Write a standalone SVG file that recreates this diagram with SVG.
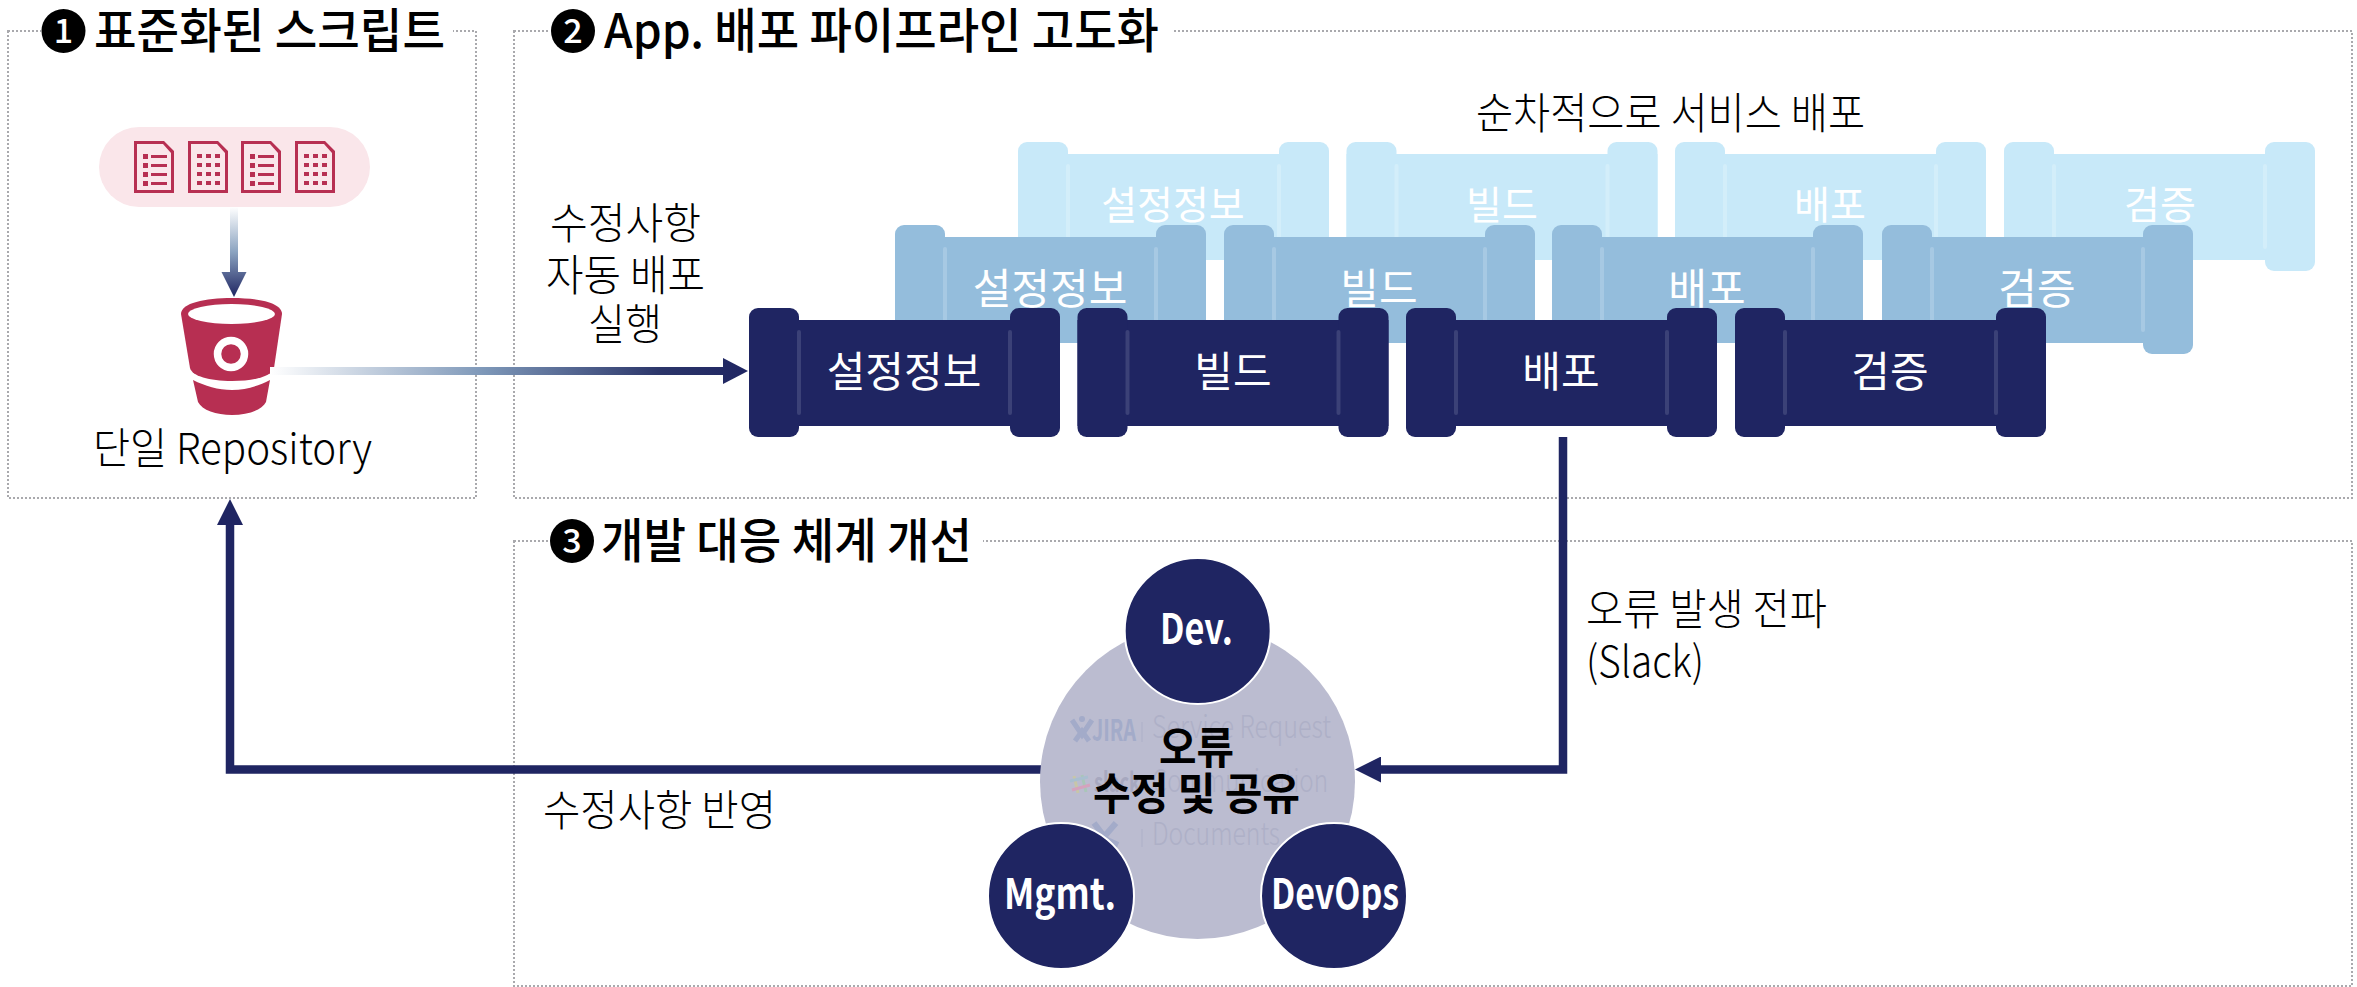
<svg xmlns="http://www.w3.org/2000/svg" width="2357" height="987" viewBox="0 0 2357 987">
<style>
text{font-family:"Noto Sans CJK KR","Noto Sans",sans-serif;}
.box{fill:none;stroke:#a9a9ad;stroke-width:2;stroke-dasharray:2 2;}
.mask{fill:#fff;}
.title{font-size:48px;font-weight:500;fill:#000;}
.num{font-size:34px;font-weight:500;fill:#fff;text-anchor:middle;}
.lab{font-size:43px;font-weight:300;fill:#000;}
.tl{font-size:42px;font-weight:400;fill:#fff;text-anchor:middle;}
.back .tl{font-size:39px;}
.front{--c:#1f2562;--s:#3b4177;}
.mid{--c:#94bddc;--s:#a7c9e3;}
.back{--c:#c8e9f9;--s:#d3eefa;}
.b,.c{fill:var(--c);}
.s{fill:var(--s);}
.line{fill:none;stroke:#1f2562;stroke-width:8.5;}
.circ{fill:#1f2562;stroke:#fff;stroke-width:2;}
.cl{font-size:42px;font-weight:700;fill:#fff;}
.ct{font-size:44px;font-weight:700;fill:#000;}
.faint{font-size:31px;font-weight:300;fill:#aeb0c7;}
.ic{fill:#b72f52;}
</style>
<defs>
<linearGradient id="gh" gradientUnits="userSpaceOnUse" x1="270" y1="0" x2="748" y2="0"><stop offset="0" stop-color="#fff"/><stop offset=".45" stop-color="#7d97b8"/><stop offset=".82" stop-color="#2b3569"/><stop offset="1" stop-color="#1f2562"/></linearGradient>
<linearGradient id="gv" gradientUnits="userSpaceOnUse" x1="0" y1="207" x2="0" y2="297"><stop offset="0" stop-color="#fff"/><stop offset=".5" stop-color="#8ba3c0"/><stop offset="1" stop-color="#1f2562"/></linearGradient>
<marker id="head" markerUnits="userSpaceOnUse" markerWidth="26" markerHeight="26" refX="0" refY="13" orient="auto"><path d="M0,0L26,13L0,26Z" fill="#1f2562"/></marker>
<g id="tube-shape">
<rect class="b" x="0" y="12" width="311" height="106"/>
<rect class="c" x="0" y="0" width="50" height="129" rx="9"/>
<rect class="c" x="261" y="0" width="50" height="129" rx="9"/>
<rect class="s" x="48" y="22" width="4" height="85" rx="2"/>
<rect class="s" x="259" y="22" width="4" height="85" rx="2"/>
</g>
<path id="doc-frame" class="ic" fill-rule="evenodd" d="M0,0H30L40,10V52H0ZM3,3V49H37V12L29,3Z"/>
<g id="doc-list"><use href="#doc-frame"/><path class="ic" d="M9,13h5v5h-5zM17,14h16v3h-16zM9,22h5v5h-5zM17,23h16v3h-16zM9,31h5v5h-5zM17,32h16v3h-16zM9,40h5v5h-5zM17,41h16v3h-16z"/></g>
<g id="doc-grid"><use href="#doc-frame"/><path class="ic" d="M9,13h5v4h-5zM18,13h5v4h-5zM27,13h5v4h-5zM9,22h5v4h-5zM18,22h5v4h-5zM27,22h5v4h-5zM9,31h5v4h-5zM18,31h5v4h-5zM27,31h5v4h-5zM9,40h5v4h-5zM18,40h5v4h-5zM27,40h5v4h-5z"/></g>
</defs>
<rect width="2357" height="987" fill="#fff"/>

<g id="frames">
<rect class="box" x="8" y="31" width="468" height="467"/>
<rect class="box" x="514" y="31" width="1838" height="467"/>
<rect class="box" x="514" y="541" width="1838" height="445"/>
<rect class="mask" x="41" y="8" width="412" height="46"/>
<rect class="mask" x="550" y="8" width="623" height="46"/>
<rect class="mask" x="550" y="518" width="433" height="46"/>
</g>

<g id="title-1"><circle cx="63.500" cy="31" r="22"/><text class="num" x="63.500" y="43">1</text><text class="title" x="94" y="48" textLength="351" lengthAdjust="spacingAndGlyphs">표준화된 스크립트</text></g>
<g id="title-2"><circle cx="573" cy="31" r="22"/><text class="num" x="573" y="43">2</text><text class="title" x="604" y="48" textLength="555" lengthAdjust="spacingAndGlyphs">App. 배포 파이프라인 고도화</text></g>
<g id="title-3"><circle cx="572" cy="541" r="22"/><text class="num" x="572" y="553">3</text><text class="title" x="601" y="558" textLength="371" lengthAdjust="spacingAndGlyphs">개발 대응 체계 개선</text></g>

<g id="script-pill">
<rect x="99" y="127" width="271" height="80" rx="40" fill="#fae6ea"/>
<use href="#doc-list" x="134" y="141"/><use href="#doc-grid" x="188" y="141"/><use href="#doc-list" x="241" y="141"/><use href="#doc-grid" x="295" y="141"/>
</g>
<g id="repository">
<path class="ic" d="M181,314C181,303 205,298 232,298C259,298 282,303 282,314L274,368C272,376 255,381 232,381C209,381 192,376 190,368Z"/>
<ellipse cx="231.500" cy="314" rx="43.500" ry="10" fill="#fff"/>
<circle cx="231" cy="354" r="13.500" fill="none" stroke="#fff" stroke-width="7.500"/>
<path class="ic" d="M193,380C205,386 218,390 232,390C246,390 258,386 270,380L266,402C262,410 248,415 232,415C216,415 202,410 198,402Z"/>
<text class="lab" x="93" y="464" textLength="279" lengthAdjust="spacingAndGlyphs">단일 Repository</text>
</g>

<g id="layer-back">
<g id="back-1" class="back"><use href="#tube-shape" x="1018" y="142"/><text class="tl" x="1173" y="219">설정정보</text></g>
<g id="back-2" class="back"><use href="#tube-shape" x="1346.500" y="142"/><text class="tl" x="1502" y="219">빌드</text></g>
<g id="back-3" class="back"><use href="#tube-shape" x="1675" y="142"/><text class="tl" x="1830" y="219">배포</text></g>
<g id="back-4" class="back"><use href="#tube-shape" x="2004" y="142"/><text class="tl" x="2160" y="219">검증</text></g>
</g>
<g id="layer-mid">
<g id="mid-1" class="mid"><use href="#tube-shape" x="895" y="225"/><text class="tl" x="1050" y="304">설정정보</text></g>
<g id="mid-2" class="mid"><use href="#tube-shape" x="1224" y="225"/><text class="tl" x="1379" y="304">빌드</text></g>
<g id="mid-3" class="mid"><use href="#tube-shape" x="1552" y="225"/><text class="tl" x="1707" y="304">배포</text></g>
<g id="mid-4" class="mid"><use href="#tube-shape" x="1882" y="225"/><text class="tl" x="2037" y="304">검증</text></g>
</g>

<g id="connectors">
<path d="M270,371H724" fill="none" stroke="url(#gh)" stroke-width="8"/>
<path d="M723,358L748,371L723,384Z" fill="url(#gh)"/>
<path d="M234,207V273" fill="none" stroke="url(#gv)" stroke-width="8"/>
<path d="M221.500,272H246.500L234,297Z" fill="url(#gv)"/>
<path class="line" d="M1563,437V769.500H1381" marker-end="url(#head)"/>
<path class="line" d="M1042,769.500H230V525" marker-end="url(#head)"/>
</g>

<g id="layer-front">
<g id="front-1" class="front"><use href="#tube-shape" x="749" y="308"/><text class="tl" x="904" y="387">설정정보</text></g>
<g id="front-2" class="front"><use href="#tube-shape" x="1077.500" y="308"/><text class="tl" x="1233" y="387">빌드</text></g>
<g id="front-3" class="front"><use href="#tube-shape" x="1406" y="308"/><text class="tl" x="1561" y="387">배포</text></g>
<g id="front-4" class="front"><use href="#tube-shape" x="1735" y="308"/><text class="tl" x="1890" y="387">검증</text></g>
</g>

<g id="label-sequential"><text class="lab" x="1476" y="129" textLength="389" lengthAdjust="spacingAndGlyphs">순차적으로 서비스 배포</text></g>
<g id="label-auto"><text class="lab" x="550" y="239" textLength="151" lengthAdjust="spacingAndGlyphs">수정사항</text><text class="lab" x="546" y="291" textLength="159" lengthAdjust="spacingAndGlyphs">자동 배포</text><text class="lab" x="588" y="340" textLength="74" lengthAdjust="spacingAndGlyphs">실행</text></g>
<g id="label-error"><text class="lab" x="1586" y="625" textLength="241" lengthAdjust="spacingAndGlyphs">오류 발생 전파</text><text class="lab" x="1586" y="677" textLength="118" lengthAdjust="spacingAndGlyphs">(Slack)</text></g>
<g id="label-fix"><text class="lab" x="543" y="826" textLength="233" lengthAdjust="spacingAndGlyphs">수정사항 반영</text></g>

<g id="hub">
<circle cx="1197.500" cy="781.500" r="157.500" fill="#bbbcd0"/>
<g id="hub-faint">
<path d="M1072,720L1082,735L1092,720M1075,741L1082,731L1089,741" fill="none" stroke="#a3abc9" stroke-width="5"/>
<circle cx="1082" cy="719" r="3" fill="#a3abc9"/>
<text x="1092" y="741" font-size="30" font-weight="700" fill="#a3abc9" textLength="44" lengthAdjust="spacingAndGlyphs">JIRA</text>
<rect x="1141.500" y="722" width="1" height="20" fill="#aeb0c7"/>
<text class="faint" x="1152" y="738" textLength="179" lengthAdjust="spacingAndGlyphs">Service Request</text>
<path d="M1074,776L1078,793" stroke="#c7c6a8" stroke-width="3"/><path d="M1082,775L1086,792" stroke="#a9c6b8" stroke-width="3"/><path d="M1070,781L1088,777" stroke="#a9bfd0" stroke-width="3"/><path d="M1072,790L1090,785" stroke="#d4a3bd" stroke-width="3"/>
<text x="1094" y="792" font-size="27" font-weight="700" fill="#a7a8bf" textLength="46" lengthAdjust="spacingAndGlyphs">slack</text>
<text class="faint" x="1152" y="792" textLength="176" lengthAdjust="spacingAndGlyphs">Communication</text>
<path d="M1094,823L1107,840L1118,845M1116,823L1103,838" fill="none" stroke="#a3abc9" stroke-width="6"/>
<rect x="1141.500" y="829" width="1" height="18" fill="#aeb0c7"/>
<text class="faint" x="1152" y="845" textLength="128" lengthAdjust="spacingAndGlyphs">Documents</text>
</g>
<text class="ct" x="1159" y="764" textLength="75" lengthAdjust="spacingAndGlyphs">오류</text>
<text class="ct" x="1093" y="810" textLength="207" lengthAdjust="spacingAndGlyphs">수정 및 공유</text>
</g>
<g id="dev"><circle class="circ" cx="1197.700" cy="631" r="73"/><text class="cl" x="1160" y="644" textLength="73" lengthAdjust="spacingAndGlyphs">Dev.</text></g>
<g id="mgmt"><circle class="circ" cx="1061" cy="896" r="73"/><text class="cl" x="1004" y="909" textLength="112" lengthAdjust="spacingAndGlyphs">Mgmt.</text></g>
<g id="devops"><circle class="circ" cx="1334" cy="896" r="73"/><text class="cl" x="1271" y="909" textLength="128" lengthAdjust="spacingAndGlyphs">DevOps</text></g>
</svg>
